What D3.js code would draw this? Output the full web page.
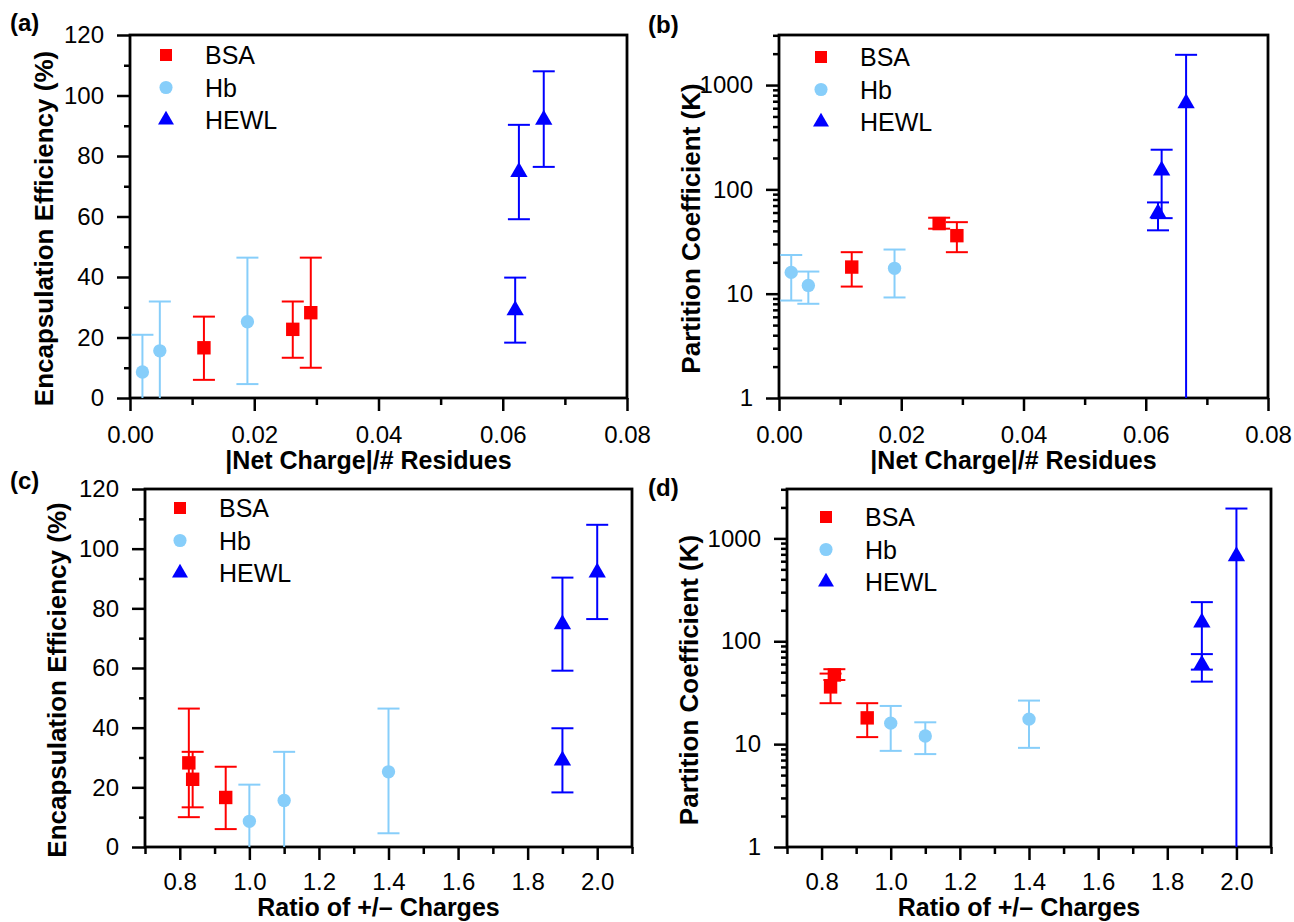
<!DOCTYPE html>
<html lang="en">
<head>
<meta charset="UTF-8">
<title>Encapsulation efficiency and partition coefficient</title>
<script src="https://d3js.org/d3.v7.min.js"></script>
<style>
body { margin: 0; background: #fff; }
svg text { font-family: "Liberation Sans", Arial, sans-serif; fill: #000; }
.title { font-weight: bold; }
</style>
</head>
<body>
<div id="chart"></div>
<script>
// ---- data ----
var proteins = ["BSA", "Hb", "HEWL"];

var bsaNetCharge = [0.0119, 0.0262, 0.0291];
var bsaRatio     = [0.932, 0.837, 0.826];
var bsaEE        = [16.6, 22.7, 28.2];
var bsaEELo      = [6.0, 13.3, 10.0];
var bsaEEHi      = [26.9, 31.9, 46.4];
var bsaK         = [18, 47, 36];
var bsaKLo       = [11.7, 42, 25];
var bsaKHi       = [25, 53.5, 48.5];

var hbNetCharge = [0.0020, 0.0048, 0.0189];
var hbRatio     = [1.0, 1.1, 1.4];
var hbEE        = [8.6, 15.6, 25.2];
var hbEELo      = [-4, -1, 4.6];
var hbEEHi      = [20.9, 31.9, 46.4];
var hbK         = [16, 12, 17.5];
var hbKLo       = [8.6, 8.0, 9.2];
var hbKHi       = [23.5, 16.3, 26.5];

var hewlNetCharge = [0.0620, 0.0626, 0.0666];
var hewlRatio     = [1.9, 1.9, 2.0];
var hewlEE        = [29.0, 74.7, 92.0];
var hewlEELo      = [18.3, 59.1, 76.4];
var hewlEEHi      = [39.8, 90.3, 108.0];
var hewlK         = [59, 152, 670];
var hewlKLo       = [40.5, 53, 0.5];
var hewlKHi       = [75, 240, 1950];

var eeTicks    = [0, 20, 40, 60, 80, 100, 120];
var kTicks     = [1, 10, 100, 1000];
var ncTicks    = [0, 0.02, 0.04, 0.06, 0.08];
var ratioTicks = [0.8, 1.0, 1.2, 1.4, 1.6, 1.8, 2.0];

var colors = { BSA: "#ff0000", Hb: "#87cefa", HEWL: "#0000ff" };
var shapes = { BSA: d3.symbolSquare, Hb: d3.symbolCircle, HEWL: d3.symbolTriangle };
var sizes  = { BSA: 180, Hb: 140, HEWL: 130 };
var legSizes = { BSA: 144, Hb: 135, HEWL: 110 };

var series = {
  BSA:  { nc: bsaNetCharge,  ratio: bsaRatio,  ee: bsaEE,  eeLo: bsaEELo,  eeHi: bsaEEHi,  k: bsaK,  kLo: bsaKLo,  kHi: bsaKHi },
  Hb:   { nc: hbNetCharge,   ratio: hbRatio,   ee: hbEE,   eeLo: hbEELo,   eeHi: hbEEHi,   k: hbK,   kLo: hbKLo,   kHi: hbKHi },
  HEWL: { nc: hewlNetCharge, ratio: hewlRatio, ee: hewlEE, eeLo: hewlEELo, eeHi: hewlEEHi, k: hewlK, kLo: hewlKLo, kHi: hewlKHi }
};

var svg = d3.select("#chart").append("svg")
  .attr("width", 1294)
  .attr("height", 922);

// panel definitions
var panels = [
  { tag: "(a)", tagX: 10, tagY: 31, box: [130, 627, 35, 398], xKey: "nc", yKey: "ee",
    xDomain: [0, 0.08], xTicks: ncTicks, xMinor: 0.01, xFmt: d3.format(".2f"), log: false, xPad: 15,
    xTitle: "|Net Charge|/# Residues", xTitleDy: 71, yTitle: "Encapsulation Efficiency (%)", yTitleX: 53, leg: [36, 20] },
  { tag: "(b)", tagX: 648, tagY: 33, box: [779, 1268, 35, 398], xKey: "nc", yKey: "k",
    xDomain: [0, 0.08], xTicks: ncTicks, xMinor: 0.01, xFmt: d3.format(".2f"), log: true, xPad: 15,
    xTitle: "|Net Charge|/# Residues", xTitleDy: 71, yTitle: "Partition Coefficient (K)", yTitleX: 700, leg: [42, 22] },
  { tag: "(c)", tagX: 10, tagY: 489, box: [145, 632, 489, 847], xKey: "ratio", yKey: "ee",
    xDomain: [0.7, 2.1], xTicks: ratioTicks, xMinor: 0.1, xFmt: d3.format(".1f"), log: false, xPad: 13,
    xTitle: "Ratio of +/\u2013 Charges", xTitleDy: 69, yTitle: "Encapsulation Efficiency (%)", yTitleX: 66, leg: [35, 19] },
  { tag: "(d)", tagX: 648, tagY: 496, box: [787, 1271, 489, 847], xKey: "ratio", yKey: "k",
    xDomain: [0.7, 2.1], xTicks: ratioTicks, xMinor: 0.1, xFmt: d3.format(".1f"), log: true, xPad: 13,
    xTitle: "Ratio of +/\u2013 Charges", xTitleDy: 69, yTitle: "Partition Coefficient (K)", yTitleX: 698, leg: [39, 28] }
];

panels.forEach(function(p) {
  var L = p.box[0], R = p.box[1], T = p.box[2], B = p.box[3];
  var g = svg.append("g");

  var x = d3.scaleLinear().domain(p.xDomain).range([L, R]);
  var y = p.log
    ? d3.scaleLog().domain([1, 3020]).range([B, T])
    : d3.scaleLinear().domain([0, 120]).range([B, T]);

  // minor ticks
  var xMinorVals = d3.range(p.xDomain[0], p.xDomain[1] + 1e-9, p.xMinor)
    .filter(function(v) { return !p.xTicks.some(function(t) { return Math.abs(t - v) < 1e-6; }); });
  var yMinorVals;
  if (p.log) {
    yMinorVals = [];
    [1, 10, 100, 1000].forEach(function(dec) {
      for (var m = 2; m <= 9; m++) if (dec * m <= 3020) yMinorVals.push(dec * m);
    });
  } else {
    yMinorVals = [10, 30, 50, 70, 90, 110];
  }

  g.append("g").attr("transform", "translate(0," + B + ")")
    .call(d3.axisBottom(x).tickValues(xMinorVals).tickSize(7).tickFormat(""))
    .call(function(a) { a.select(".domain").remove(); a.selectAll("line").attr("stroke-width", 2.5); });
  g.append("g").attr("transform", "translate(" + L + ",0)")
    .call(d3.axisLeft(y).tickValues(yMinorVals).tickSize(6).tickFormat(""))
    .call(function(a) { a.select(".domain").remove(); a.selectAll("line").attr("stroke-width", 2.5); });

  // major ticks
  g.append("g").attr("transform", "translate(0," + B + ")")
    .call(d3.axisBottom(x).tickValues(p.xTicks).tickSize(13).tickPadding(p.xPad).tickFormat(p.xFmt))
    .call(function(a) {
      a.select(".domain").remove();
      a.selectAll("line").attr("stroke-width", 2.5);
      a.selectAll("text").attr("font-size", 24).attr("font-family", null);
    });
  g.append("g").attr("transform", "translate(" + L + ",0)")
    .call(d3.axisLeft(y).tickValues(p.log ? kTicks : eeTicks).tickSize(13).tickPadding(13)
      .tickFormat(function(d) { return d; }))
    .call(function(a) {
      a.select(".domain").remove();
      a.selectAll("line").attr("stroke-width", 2.5);
      a.selectAll("text").attr("font-size", 24).attr("font-family", null);
    });

  // frame
  g.append("rect")
    .attr("x", L).attr("y", T).attr("width", R - L).attr("height", B - T)
    .attr("fill", "none").attr("stroke", "#000").attr("stroke-width", 2.8);

  // data
  proteins.forEach(function(name) {
    var s = series[name];
    var vals = s[p.yKey], lo = s[p.yKey + "Lo"], hi = s[p.yKey + "Hi"];
    var yMin = y.domain()[0];
    vals.forEach(function(v, i) {
      var cx = x(s[p.xKey][i]);
      var yLo = lo[i] < yMin ? B : y(lo[i]);
      var yHi = y(hi[i]);
      g.append("line").attr("x1", cx).attr("x2", cx).attr("y1", yLo).attr("y2", yHi)
        .attr("stroke", colors[name]).attr("stroke-width", 2);
      g.append("line").attr("x1", cx - 11).attr("x2", cx + 11).attr("y1", yHi).attr("y2", yHi)
        .attr("stroke", colors[name]).attr("stroke-width", 2);
      if (lo[i] >= yMin) {
        g.append("line").attr("x1", cx - 11).attr("x2", cx + 11).attr("y1", yLo).attr("y2", yLo)
          .attr("stroke", colors[name]).attr("stroke-width", 2);
      }
      g.append("path")
        .attr("d", d3.symbol().type(shapes[name]).size(sizes[name])())
        .attr("transform", "translate(" + cx + "," + y(v) + ")")
        .attr("fill", colors[name]);
    });
  });

  // legend
  proteins.forEach(function(name, i) {
    var ly = T + p.leg[1] + i * 32.5;
    g.append("path")
      .attr("d", d3.symbol().type(shapes[name]).size(legSizes[name])())
      .attr("transform", "translate(" + (L + p.leg[0]) + "," + ly + ")")
      .attr("fill", colors[name]);
    g.append("text")
      .attr("x", L + p.leg[0] + 39).attr("y", ly + 9.3)
      .attr("font-size", 25)
      .text(name);
  });

  // titles
  g.append("text").attr("class", "title")
    .attr("x", (L + R) / 2 - 10).attr("y", B + p.xTitleDy)
    .attr("text-anchor", "middle").attr("font-size", 25)
    .text(p.xTitle);
  g.append("text").attr("class", "title")
    .attr("transform", "translate(" + p.yTitleX + "," + ((T + B) / 2 + 12) + ") rotate(-90)")
    .attr("text-anchor", "middle").attr("font-size", 26)
    .text(p.yTitle);
  g.append("text").attr("class", "title")
    .attr("x", p.tagX).attr("y", p.tagY).attr("font-size", 24)
    .text(p.tag);
});
</script>
</body>
</html>
